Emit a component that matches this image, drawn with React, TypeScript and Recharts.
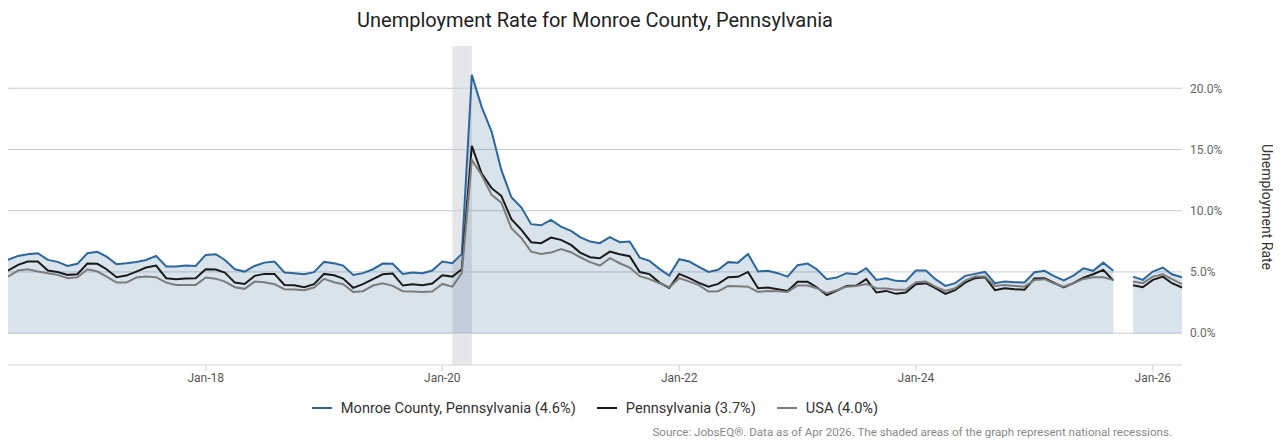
import { ComposedChart, Area, Line, XAxis, YAxis, CartesianGrid, ReferenceArea } from 'recharts';

// monthly series, May 2016 .. Apr 2026 (Oct 2025 not published)
const FIRST_MONTH = { year: 2016, month: 4 };

const monroe = [
  5.98, 6.31, 6.45, 6.53, 5.98, 5.82, 5.49, 5.66,
  6.53, 6.64, 6.25, 5.63, 5.71, 5.82, 5.98, 6.31, 5.44, 5.44, 5.52, 5.49,
  6.39, 6.45, 5.98, 5.22, 5.03, 5.49, 5.76, 5.85, 4.95, 4.9, 4.81, 4.98,
  5.82, 5.71, 5.52, 4.76, 4.9, 5.22, 5.68, 5.66, 4.84, 4.95, 4.9, 5.11,
  5.85, 5.71, 6.47, 21.09, 18.5, 16.46, 13.33, 11.1, 10.26, 8.9, 8.81, 9.25,
  8.7, 8.35, 7.84, 7.48, 7.35, 7.84, 7.43, 7.48, 6.17, 5.9, 5.25, 4.7,
  6.04, 5.85, 5.44, 5.0, 5.17, 5.8, 5.76, 6.47, 5.03, 5.09, 4.9, 4.62,
  5.55, 5.68, 5.22, 4.4, 4.54, 4.9, 4.81, 5.3, 4.35, 4.49, 4.27, 4.24,
  5.11, 5.11, 4.41, 3.86, 4.08, 4.68, 4.84, 5.0, 4.08, 4.21, 4.16, 4.14,
  4.98, 5.09, 4.68, 4.3, 4.7, 5.3, 5.09, 5.76, 5.09, null, 4.62, 4.35,
  5.03, 5.36, 4.81, 4.57,
];

const pennsylvania = [
  5.11, 5.58, 5.85, 5.85, 5.11, 5.0, 4.76, 4.81,
  5.68, 5.66, 5.22, 4.57, 4.7, 5.03, 5.36, 5.52, 4.49, 4.41, 4.46, 4.49,
  5.22, 5.2, 4.95, 4.13, 4.02, 4.68, 4.84, 4.84, 3.94, 3.92, 3.75, 4.0,
  4.84, 4.73, 4.46, 3.7, 4.0, 4.41, 4.81, 4.87, 3.89, 4.0, 3.92, 4.05,
  4.73, 4.62, 5.22, 15.29, 13.06, 11.84, 11.21, 9.31, 8.43, 7.43, 7.35, 7.8,
  7.62, 7.21, 6.58, 6.2, 6.12, 6.66, 6.45, 6.28, 4.99, 4.82, 4.13, 3.7,
  4.84, 4.49, 4.13, 3.8, 4.02, 4.57, 4.6, 5.0, 3.67, 3.73, 3.59, 3.45,
  4.19, 4.19, 3.75, 3.1, 3.45, 3.86, 3.89, 4.41, 3.32, 3.45, 3.21, 3.32,
  4.0, 4.08, 3.67, 3.21, 3.51, 4.13, 4.49, 4.57, 3.51, 3.67, 3.59, 3.54,
  4.46, 4.49, 4.13, 3.73, 4.08, 4.54, 4.81, 5.17, 4.3, null, 3.92, 3.75,
  4.35, 4.62, 4.08, 3.73,
];

const usa = [
  4.62, 5.11, 5.22, 5.03, 4.9, 4.76, 4.49, 4.57,
  5.22, 5.03, 4.62, 4.13, 4.13, 4.54, 4.62, 4.57, 4.13, 3.94, 3.94, 3.94,
  4.54, 4.45, 4.21, 3.75, 3.62, 4.21, 4.16, 4.0, 3.59, 3.56, 3.51, 3.73,
  4.43, 4.16, 4.0, 3.37, 3.43, 3.89, 4.08, 3.86, 3.43, 3.4, 3.37, 3.4,
  4.02, 3.8, 4.9, 14.15, 12.92, 11.29, 10.66, 8.57, 7.76, 6.66, 6.47, 6.58,
  6.86, 6.61, 6.2, 5.8, 5.52, 6.12, 5.71, 5.36, 4.65, 4.41, 4.08, 3.75,
  4.49, 4.21, 3.94, 3.4, 3.43, 3.86, 3.83, 3.8, 3.37, 3.45, 3.43, 3.37,
  3.89, 3.89, 3.67, 3.27, 3.51, 3.8, 3.86, 4.02, 3.67, 3.65, 3.54, 3.54,
  4.16, 4.21, 3.8, 3.45, 3.67, 4.3, 4.62, 4.62, 3.86, 3.94, 3.86, 3.8,
  4.35, 4.41, 4.08, 3.8, 4.08, 4.43, 4.57, 4.57, 4.35, null, 4.21, 4.08,
  4.62, 4.81, 4.41, 4.0,
];

const tickYears = [2018, 2020, 2022, 2024, 2026];
const tickLabels = ['Jan-18', 'Jan-20', 'Jan-22', 'Jan-24', 'Jan-26'];
const yTicks = [0, 5, 10, 15, 20];
const recession = { from: [2020, 1], to: [2020, 3] };

const legendItems = [
  { label: 'Monroe County, Pennsylvania (4.6%)', color: '#2b679c' },
  { label: 'Pennsylvania (3.7%)', color: '#1a1a1a' },
  { label: 'USA (4.0%)', color: '#7c7c7c' },
];

const FONT = 'Roboto, "Noto Sans", sans-serif';

const monthTs = (y: number, m: number) => Date.UTC(y, m, 1);

const data = monroe.map((v, i) => ({
  t: monthTs(FIRST_MONTH.year, FIRST_MONTH.month + i),
  monroe: v,
  pennsylvania: pennsylvania[i],
  usa: usa[i],
}));

const xTicks = tickYears.map(y => monthTs(y, 0));
const labelFor = (ts: number) => tickLabels[xTicks.indexOf(ts)] ?? '';

export default function App() {
  return (
    <div style={{ position: 'relative', width: 1265, height: 432, fontFamily: FONT }}>
      <div
        style={{
          position: 'absolute', left: 0, top: 0, width: 1174, lineHeight: '24px',
          textAlign: 'center', fontSize: 20, color: '#222',
        }}
      >
        Unemployment Rate for Monroe County, Pennsylvania
      </div>

      <ComposedChart
        width={1265}
        height={380}
        data={data}
        margin={{ top: 38, right: 0, bottom: 0, left: 0 }}
        style={{ position: 'absolute', left: 0, top: 0 }}
      >
        <CartesianGrid vertical={false} horizontalValues={yTicks} stroke="#c6cbd6" />
        <XAxis
          dataKey="t"
          type="number"
          domain={[data[0].t, data[data.length - 1].t]}
          ticks={xTicks}
          tickFormatter={labelFor}
          height={23}
          stroke="#ccd3de"
          tickLine={{ stroke: '#ccd3de' }}
          tick={{ fill: '#555', fontSize: 12, fontFamily: FONT }}
        />
        <YAxis
          orientation="right"
          width={91}
          domain={[-2.6, 23.45]}
          ticks={yTicks}
          tickFormatter={(v: number) => `${v.toFixed(1)}%`}
          axisLine={false}
          tickLine={false}
          tick={{ fill: '#666', fontSize: 12, fontFamily: FONT }}
        />
        <ReferenceArea
          x1={monthTs(recession.from[0], recession.from[1])}
          x2={monthTs(recession.to[0], recession.to[1])}
          fill="#c9cdd3"
          fillOpacity={0.5}
          stroke="none"
        />
        <Area
          dataKey="monroe"
          type="linear"
          stroke="#2b679c"
          strokeWidth={2}
          fill="#2f6497"
          fillOpacity={0.18}
          baseValue={0}
          dot={false}
          activeDot={false}
          isAnimationActive={false}
        />
        <Line
          dataKey="pennsylvania"
          type="linear"
          stroke="#1a1a1a"
          strokeWidth={2}
          dot={false}
          activeDot={false}
          isAnimationActive={false}
        />
        <Line
          dataKey="usa"
          type="linear"
          stroke="#7c7c7c"
          strokeWidth={2}
          dot={false}
          activeDot={false}
          isAnimationActive={false}
        />
      </ComposedChart>

      <div
        style={{
          position: 'absolute', left: 1259, top: 199, transform: 'translate(-50%, -50%) rotate(90deg)',
          whiteSpace: 'nowrap', fontSize: 14, color: '#333',
        }}
      >
        Unemployment Rate
      </div>

      <div
        style={{
          position: 'absolute', left: 0, top: 390, width: 1174, display: 'flex',
          justifyContent: 'center', gap: 21, fontSize: 14.6, color: '#333', lineHeight: '20px',
        }}
      >
        {legendItems.map(item => (
          <div key={item.label} style={{ display: 'flex', alignItems: 'center' }}>
            <span style={{ display: 'inline-block', width: 20, height: 2, background: item.color, marginRight: 9 }} />
            {item.label}
          </div>
        ))}
      </div>

      <div
        style={{
          position: 'absolute', left: 0, top: 416, width: 1164, textAlign: 'right',
          fontSize: 11.6, color: '#888', lineHeight: '16px',
        }}
      >
        Source: JobsEQ®. Data as of Apr 2026. The shaded areas of the graph represent national recessions.
      </div>
    </div>
  );
}
